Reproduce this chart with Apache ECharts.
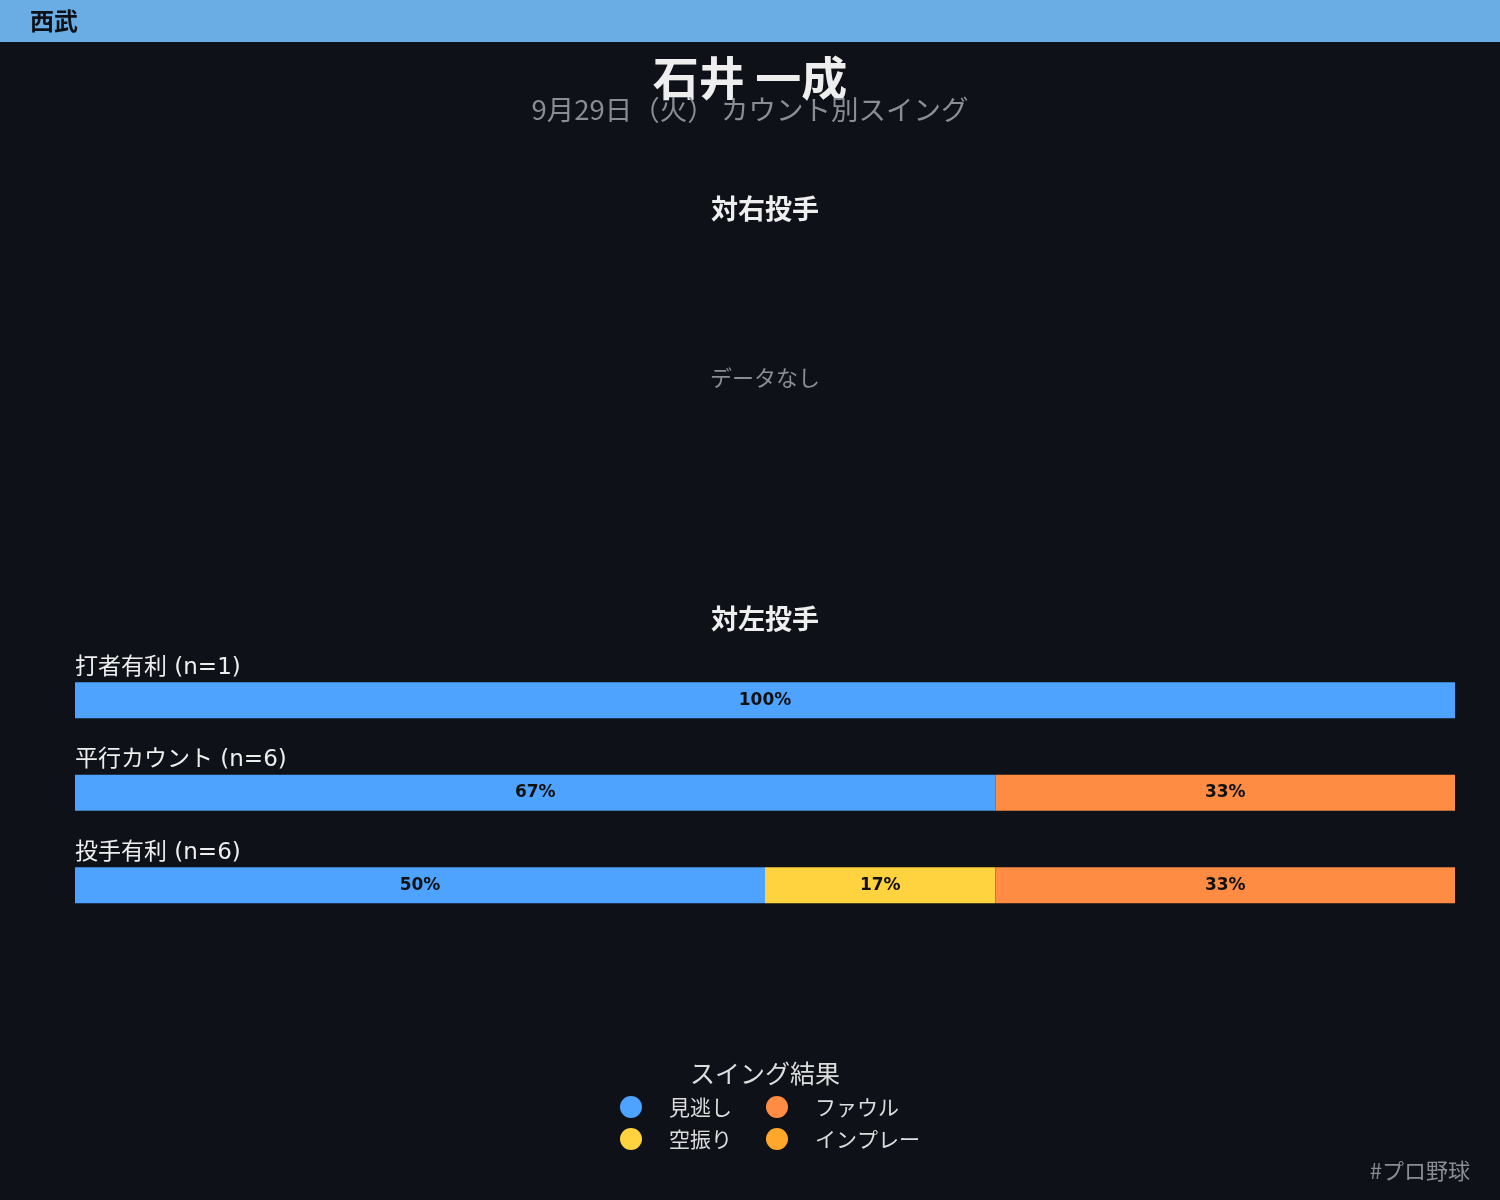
<!DOCTYPE html>
<html>
<head>
<meta charset="utf-8">
<script src="https://cdn.jsdelivr.net/npm/echarts@6/dist/echarts.min.js"></script>
<style>
  html, body { margin: 0; padding: 0; background: #0e1117; }
  #main { width: 1500px; height: 1200px; }
</style>
</head>
<body>
<div id="main"></div>
<script>
// カウント区分と打席数
const countNames = ["打者有利", "平行カウント", "投手有利"];
const countN = [1, 6, 6];

// スイング結果（%）
const missPct = [100, 66.7, 50];
const whiffPct = [0, 0, 16.7];
const foulPct = [0, 33.3, 33.3];
const inplayPct = [0, 0, 0];

const resultNames = ["見逃し", "空振り", "ファウル", "インプレー"];
const resultColors = ["#4da3ff", "#ffd23f", "#ff8c42", "#ffa62b"];

const FONT = "'DejaVu Sans', 'Noto Sans CJK JP', sans-serif";
const JP = "'Noto Sans CJK JP', sans-serif";

const categories = countNames.map((name, i) => name + " (n=" + countN[i] + ")");

function makeSeries(name, data, color) {
  return {
    name: name,
    type: "bar",
    stack: "total",
    barWidth: 36,
    data: data,
    itemStyle: { color: color },
    label: {
      show: true,
      position: "inside",
      fontFamily: FONT,
      fontWeight: "bold",
      fontSize: 17,
      color: "#111111",
      formatter: p => (p.value > 0 ? Math.round(p.value) + "%" : "")
    },
    emphasis: { disabled: true }
  };
}

// 凡例（2列）
function makeLegend(names, left) {
  return {
    orient: "vertical",
    left: left,
    top: 1091,
    itemWidth: 22,
    itemHeight: 22,
    itemGap: 10,
    icon: "circle",
    data: names,
    textStyle: { color: "#dddddd", fontFamily: JP, fontSize: 21, padding: [0, 0, 0, 22] },
    selectedMode: false
  };
}

const chart = echarts.init(document.getElementById("main"));

const option = {
  backgroundColor: "#0e1117",
  animation: false,
  graphic: [
    { type: "rect", left: 0, top: 0, shape: { width: 1500, height: 42 }, style: { fill: "#6aade4" } },
    { type: "text", x: 30, y: 21, style: { text: "西武", font: "bold 24px " + JP, fill: "#0e1117", verticalAlign: "middle" } },
    { type: "text", x: 750, y: 78, style: { text: "石井 一成", font: "bold 46px " + JP, fill: "#eeeeee", align: "center", verticalAlign: "middle" } },
    { type: "text", x: 750, y: 110, style: { text: "9月29日（火） カウント別スイング", font: "27.5px " + JP, fill: "#8a8d93", align: "center", verticalAlign: "middle" } },
    { type: "text", x: 765, y: 209, style: { text: "対右投手", font: "bold 27px " + JP, fill: "#eeeeee", align: "center", verticalAlign: "middle" } },
    { type: "text", x: 765, y: 378, style: { text: "データなし", font: "22px " + JP, fill: "#8a8d93", align: "center", verticalAlign: "middle" } },
    { type: "text", x: 765, y: 619, style: { text: "対左投手", font: "bold 27px " + JP, fill: "#eeeeee", align: "center", verticalAlign: "middle" } },
    { type: "text", x: 765, y: 1073, style: { text: "スイング結果", font: "25px " + JP, fill: "#dddddd", align: "center", verticalAlign: "middle" } },
    { type: "text", x: 1470, y: 1171, style: { text: "#プロ野球", font: "22px " + JP, fill: "#8a8d93", align: "right", verticalAlign: "middle" } }
  ],
  legend: [
    makeLegend([resultNames[0], resultNames[1]], 615),
    makeLegend([resultNames[2], resultNames[3]], 761)
  ],
  grid: { left: 75, right: 45, top: 654, height: 277.5, containLabel: false },
  xAxis: { type: "value", min: 0, max: 100, show: false },
  yAxis: {
    type: "category",
    inverse: true,
    data: categories,
    axisLine: { show: false },
    axisTick: { show: false },
    splitLine: { show: false },
    axisLabel: {
      inside: true,
      margin: 0,
      align: "left",
      verticalAlign: "bottom",
      padding: [0, 0, 21, 0],
      color: "#eeeeee",
      fontFamily: FONT,
      fontSize: 23
    },
    z: 10
  },
  series: [
    makeSeries(resultNames[0], missPct, resultColors[0]),
    makeSeries(resultNames[1], whiffPct, resultColors[1]),
    makeSeries(resultNames[2], foulPct, resultColors[2]),
    makeSeries(resultNames[3], inplayPct, resultColors[3])
  ]
};

chart.setOption(option);
</script>
</body>
</html>
